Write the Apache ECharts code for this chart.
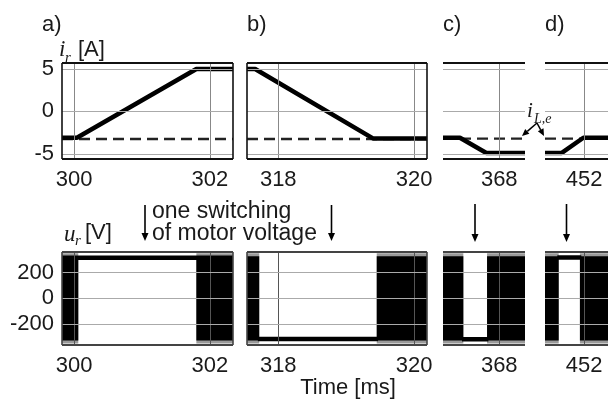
<!DOCTYPE html>
<html><head><meta charset="utf-8">
<script src="https://cdn.jsdelivr.net/npm/echarts@6/dist/echarts.min.js"></script>
<style>html,body{margin:0;padding:0;background:#fff}#c{width:608px;height:399px}</style>
</head><body><div id="c"></div>
<script>
// ---- data ----
const panelNames = ['a)', 'b)', 'c)', 'd)'];
const xRanges = [[299.82, 302.34], [317.54, 320.19], [367.17, 368.38], [451.43, 452.35]];
const xTicks = [[300, 302], [318, 320], [368], [452]];
const iRange = [-5.6, 5.7];
const iTicks = [-5, 0, 5];
const uRange = [-360, 358];
const uTicks = [-200, 0, 200];
// motor current i_r [A]  (time ms, A)
const iA = [[299.82, -3.1], [300.04, -3.1], [301.8, 5], [302.34, 5]];
const iB = [[317.54, 5], [317.66, 5], [319.40, -3.2], [320.19, -3.2]];
const iC = [[367.17, -3.1], [367.42, -3.1], [367.81, -4.9], [368.38, -4.9]];
const iD = [[451.43, -4.9], [451.67, -4.9], [451.99, -3.1], [452.35, -3.1]];
// estimated current i_Le (dashed)
const iLe = [-3.25, -3.25, -3.2, -3.2];
// motor voltage u_r [V]: constant segments
const uA = [[299.82, 313], [302.34, 313]];
const uB = [[317.70, -313], [319.47, -313]];
const uC = [[367.45, -315], [367.84, -315]];
const uD = [[451.61, 315], [451.96, 315]];
// PWM switching intervals [start, end, low, high] (dense switching, drawn filled)
const swA = [[299.82, 300.06, -325, 325], [301.80, 302.34, -325, 325]];
const swB = [[317.54, 317.72, -325, 325], [319.45, 320.19, -325, 325]];
const swC = [[367.17, 367.47, -325, 325], [367.82, 368.38, -325, 325]];
const swD = [[451.43, 451.63, -325, 325], [451.94, 452.35, -325, 325]];
// overshoot band of switching intervals
const spike = [-348, 348];

const iSeries = [iA, iB, iC, iD];
const uSeries = [uA, uB, uC, uD];
const swSeries = [swA, swB, swC, swD];

// ---- layout ----
const lefts = [62, 247, 443, 545];
const widths = [171, 180, 82, 63];
const FONT = 'Liberation Sans, Arial, sans-serif';
const SERIF = 'Liberation Serif, Times New Roman, serif';

function rectItem(color, useSpike) {
  return function (params, api) {
    const lo = useSpike ? spike[0] : api.value(2);
    const hi = useSpike ? spike[1] : api.value(3);
    const p0 = api.coord([api.value(0), hi]);
    const p1 = api.coord([api.value(1), lo]);
    return {type: 'rect', shape: {x: p0[0], y: p0[1], width: p1[0] - p0[0], height: p1[1] - p0[1]}, style: {fill: color}};
  };
}

const grids = [], xAxes = [], yAxes = [], series = [];
for (let r = 0; r < 2; r++) {
  for (let p = 0; p < 4; p++) {
    const gi = r * 4 + p;
    grids.push({left: lefts[p], width: widths[p], top: r === 0 ? 63 : 252, height: r === 0 ? 96 : 93, show: false});
    xAxes.push({
      type: 'value', gridIndex: gi, min: xRanges[p][0], max: xRanges[p][1],
      axisLine: {show: false}, splitLine: {show: false},
      axisTick: {show: false},
      axisLabel: {show: true, customValues: xTicks[p], fontFamily: FONT, fontSize: 22, color: '#1a1a1a', margin: 10}
    });
    const rng = r === 0 ? iRange : uRange;
    const tks = r === 0 ? iTicks : uTicks;
    yAxes.push({
      type: 'value', gridIndex: gi, min: rng[0], max: rng[1],
      axisLine: {show: false}, splitLine: {show: false}, axisTick: {show: false},
      axisLabel: {show: p === 0, customValues: tks, fontFamily: FONT, fontSize: 22, color: '#1a1a1a', margin: 8}
    });
    const ml = [];
    xTicks[p].forEach(v => ml.push({xAxis: v, lineStyle: {color: r === 0 ? '#888' : '#555', width: 1, type: 'solid'}}));
    tks.forEach(v => ml.push({yAxis: v, lineStyle: {color: '#aaa', width: 1.2, type: 'solid'}}));
    const frameColor = r === 0 ? '#111' : '#444';
    ml.push({yAxis: rng[0], lineStyle: {color: frameColor, width: 1.8, type: 'solid'}});
    ml.push({yAxis: rng[1], lineStyle: {color: frameColor, width: 1.8, type: 'solid'}});
    if (p < 2) {
      ml.push({xAxis: xRanges[p][0], lineStyle: {color: frameColor, width: 1.6, type: 'solid'}});
      ml.push({xAxis: xRanges[p][1], lineStyle: {color: frameColor, width: 1.6, type: 'solid'}});
    }
    series.push({
      type: 'line', xAxisIndex: gi, yAxisIndex: gi, z: 1, silent: true, animation: false,
      data: [[xRanges[p][0], 0]], symbol: 'none', lineStyle: {opacity: 0},
      markLine: {silent: true, symbol: ['none', 'none'], label: {show: false}, animation: false, data: ml}
    });
    if (r === 0) {
      series.push({
        type: 'line', xAxisIndex: gi, yAxisIndex: gi, z: 3, animation: false, symbol: 'none',
        data: [[xRanges[p][0], iLe[p]], [xRanges[p][1], iLe[p]]],
        lineStyle: {color: '#222', width: 2.4, type: [11, 6]}
      });
      series.push({
        type: 'line', xAxisIndex: gi, yAxisIndex: gi, z: 4, animation: false, symbol: 'none',
        data: iSeries[p], lineStyle: {color: '#000', width: 4.5}
      });
    } else {
      series.push({
        type: 'custom', xAxisIndex: gi, yAxisIndex: gi, z: 2, animation: false,
        data: swSeries[p], renderItem: rectItem('#9a9a9a', true)
      });
      series.push({
        type: 'custom', xAxisIndex: gi, yAxisIndex: gi, z: 3, animation: false,
        data: swSeries[p], renderItem: rectItem('#000', false)
      });
      series.push({
        type: 'line', xAxisIndex: gi, yAxisIndex: gi, z: 4, animation: false, symbol: 'none',
        data: uSeries[p], lineStyle: {color: '#000', width: 4.5}
      });
    }
  }
}

function arrow(x, y0, y1) {
  return [
    {type: 'line', shape: {x1: x, y1: y0, x2: x, y2: y1 - 6}, style: {stroke: '#000', lineWidth: 1.6}},
    {type: 'polygon', shape: {points: [[x - 3.5, y1 - 8], [x + 3.5, y1 - 8], [x, y1]]}, style: {fill: '#000'}}
  ];
}
function arrowTo(x0, y0, x1, y1) {
  const dx = x1 - x0, dy = y1 - y0, L = Math.hypot(dx, dy);
  const ux = dx / L, uy = dy / L;
  const bx = x1 - ux * 7, by = y1 - uy * 7;
  return [
    {type: 'line', shape: {x1: x0, y1: y0, x2: bx, y2: by}, style: {stroke: '#000', lineWidth: 1.5}},
    {type: 'polygon', shape: {points: [[bx - uy * 3.2, by + ux * 3.2], [bx + uy * 3.2, by - ux * 3.2], [x1, y1]]}, style: {fill: '#000'}}
  ];
}
function txt(x, y, s, font, align) {
  return {type: 'text', style: {x: x, y: y, text: s, font: font, fill: '#1a1a1a', textAlign: align || 'left', textVerticalAlign: 'middle'}};
}

const graphic = [];
const labelX = [42, 247, 443, 545];
panelNames.forEach((n, k) => graphic.push(txt(labelX[k], 25, n, '22px ' + FONT)));
graphic.push(txt(59, 50, 'i', 'italic 23px ' + SERIF));
graphic.push(txt(65, 58, 'r', 'italic 15px ' + SERIF));
graphic.push(txt(78, 50, '[A]', '22px ' + FONT));
graphic.push(txt(64, 235, 'u', 'italic 23px ' + SERIF));
graphic.push(txt(75, 241, 'r', 'italic 15px ' + SERIF));
graphic.push(txt(85, 233, '[V]', '22px ' + FONT));
graphic.push(txt(152, 212, 'one switching', '23px ' + FONT));
graphic.push(txt(152, 234, 'of motor voltage', '23px ' + FONT));
graphic.push(txt(348, 388, 'Time [ms]', '22px ' + FONT, 'center'));
graphic.push(txt(527, 111, 'i', 'italic 21px ' + SERIF));
graphic.push(txt(534, 119, 'L,e', 'italic 14px ' + SERIF));
graphic.push(...arrow(145, 205, 241));
graphic.push(...arrow(331.5, 205, 241));
graphic.push(...arrow(475, 204, 242));
graphic.push(...arrow(566.5, 204, 242));
graphic.push(...arrowTo(537, 123, 522, 136));
graphic.push(...arrowTo(537, 123, 544, 136));

const chart = echarts.init(document.getElementById('c'), null, {renderer: 'canvas'});
chart.setOption({
  animation: false,
  backgroundColor: '#fff',
  grid: grids, xAxis: xAxes, yAxis: yAxes, series: series,
  graphic: graphic.map(g => Object.assign({z: 100}, g))
});
</script></body></html>
